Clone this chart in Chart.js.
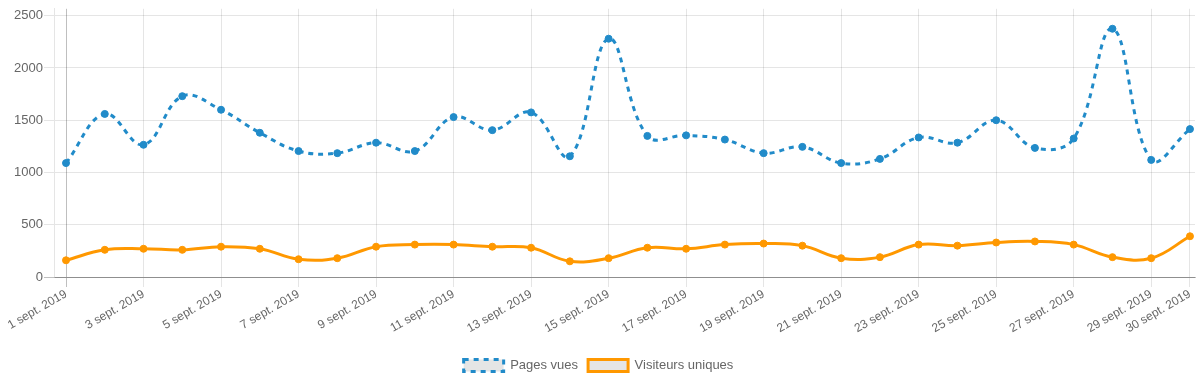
<!DOCTYPE html>
<html>
<head>
<meta charset="utf-8">
<script src="https://cdn.jsdelivr.net/npm/chart.js@4/dist/chart.umd.min.js"></script>
<style>
html,body{margin:0;padding:0;background:#fff;}
#wrap{width:1200px;height:382px;position:relative;}
</style>
</head>
<body>
<div id="wrap"><canvas id="c" width="1200" height="382"></canvas></div>
<script>
const dayLabels = [
  '1 sept. 2019','2 sept. 2019','3 sept. 2019','4 sept. 2019','5 sept. 2019',
  '6 sept. 2019','7 sept. 2019','8 sept. 2019','9 sept. 2019','10 sept. 2019',
  '11 sept. 2019','12 sept. 2019','13 sept. 2019','14 sept. 2019','15 sept. 2019',
  '16 sept. 2019','17 sept. 2019','18 sept. 2019','19 sept. 2019','20 sept. 2019',
  '21 sept. 2019','22 sept. 2019','23 sept. 2019','24 sept. 2019','25 sept. 2019',
  '26 sept. 2019','27 sept. 2019','28 sept. 2019','29 sept. 2019','30 sept. 2019'
];
const pageViews = [
  1090, 1560, 1265, 1730, 1600, 1380, 1205, 1185, 1285, 1205,
  1530, 1405, 1575, 1155, 2280, 1350, 1355, 1315, 1185, 1245,
  1090, 1130, 1335, 1285, 1500, 1235, 1325, 2375, 1120, 1415
];
const uniqueVisitors = [
  160, 260, 270, 260, 290, 270, 170, 180, 290, 310,
  310, 290, 280, 150, 180, 280, 270, 310, 320, 300,
  180, 190, 310, 300, 330, 340, 310, 190, 180, 390
];
const shownDayIdx = [0,2,4,6,8,10,12,14,16,18,20,22,24,26,28,29];
const yTickValues = [0, 500, 1000, 1500, 2000, 2500];

const toPoints = arr => arr.map((v, i) => ({x: i, y: v}));
const BLUE = 'rgb(33,139,201)';
const ORANGE = 'rgb(255,152,0)';
const GRID = 'rgba(0,0,0,0.1)';
const ZERO = 'rgba(0,0,0,0.25)';
const FAMILY = '"Liberation Sans", Arial, sans-serif';
const FONT = { family: FAMILY, size: 13 };
const XFONT = { family: FAMILY, size: 12 };

new Chart(document.getElementById('c'), {
  type: 'line',
  data: {
    datasets: [
      {
        label: 'Pages vues',
        data: toPoints(pageViews),
        borderColor: BLUE,
        backgroundColor: 'rgba(0,0,0,0.1)',
        pointBackgroundColor: BLUE,
        pointBorderColor: BLUE,
        borderWidth: 3,
        borderDash: [5, 5],
        pointRadius: 3.5,
        pointBorderWidth: 1,
        tension: 0.4,
        fill: false
      },
      {
        label: 'Visiteurs uniques',
        data: toPoints(uniqueVisitors),
        borderColor: ORANGE,
        backgroundColor: 'rgba(0,0,0,0.1)',
        pointBackgroundColor: ORANGE,
        pointBorderColor: ORANGE,
        borderWidth: 3,
        pointRadius: 3.5,
        pointBorderWidth: 1,
        tension: 0.4,
        fill: false
      }
    ]
  },
  options: {
    responsive: false,
    animation: false,
    devicePixelRatio: 1,
    layout: { padding: { top: 6, right: 3, left: 0, bottom: 0 } },
    font: FONT,
    color: '#666',
    plugins: {
      tooltip: { enabled: false },
      legend: {
        position: 'bottom',
        labels: {
          boxWidth: 40,
          boxHeight: 12,
          padding: 10,
          color: '#666',
          font: FONT
        }
      }
    },
    scales: {
      x: {
        type: 'linear',
        min: -0.31,
        max: 29.13,
        afterBuildTicks: s => { s.ticks = shownDayIdx.map(i => ({value: i})); },
        afterFit: s => { s.height = 72; },
        ticks: {
          autoSkip: false,
          maxRotation: 30,
          minRotation: 30,
          padding: 0,
          color: '#666',
          font: XFONT,
          callback: v => dayLabels[v]
        },
        grid: {
          color: ctx => (ctx.tick && ctx.tick.value === 0) ? ZERO : GRID,
          lineWidth: 1,
          tickLength: 10
        },
        border: { color: ZERO, width: 1 }
      },
      y: {
        min: 0,
        max: 2566,
        afterBuildTicks: s => { s.ticks = yTickValues.map(v => ({value: v})); },
        afterFit: s => { s.width = 54; },
        ticks: {
          padding: 1,
          color: '#666',
          font: FONT,
          callback: v => String(v)
        },
        grid: {
          color: ctx => (ctx.tick && ctx.tick.value === 0) ? ZERO : GRID,
          lineWidth: 1,
          tickLength: 10
        },
        border: { color: GRID, width: 1 }
      }
    }
  }
});
</script>
</body>
</html>
